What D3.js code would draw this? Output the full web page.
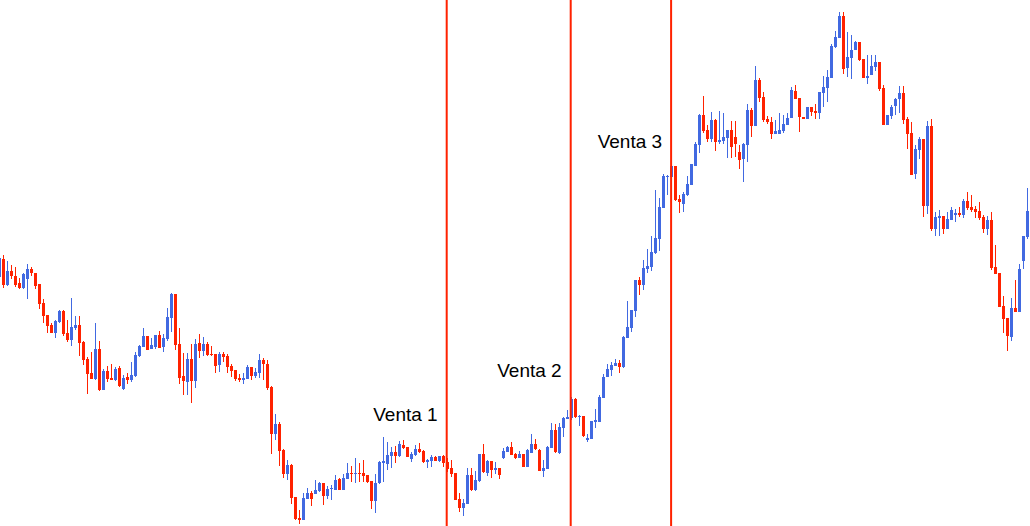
<!DOCTYPE html>
<html>
<head>
<meta charset="utf-8">
<script src="https://cdn.jsdelivr.net/npm/d3@7"></script>
<style>
  html, body { margin: 0; padding: 0; background: #fff; }
  svg { display: block; }
</style>
</head>
<body>
<div id="chart"></div>
<script>
"use strict";

// candle data, one entry per bar (price points)
var opens = [723,741,715,729,724,717,712,721,731,727,716,697,685,675,667,678,689,667,660,672,675,658,641,627,621,651,610,629,622,620,632,611,623,620,624,644,653,664,651,653,665,653,661,682,706,656,624,618,641,619,657,649,656,646,646,635,646,644,634,630,622,620,621,633,624,627,640,636,613,566,576,550,526,535,503,482,480,501,507,506,509,517,504,511,510,521,510,521,527,526,527,527,525,519,499,517,537,536,544,548,544,555,553,541,545,551,549,538,539,543,539,544,538,532,527,501,492,496,525,510,519,546,527,539,530,532,542,548,553,546,542,546,533,547,556,550,529,531,552,570,547,572,581,582,601,583,584,560,561,578,578,602,623,630,634,637,633,662,672,689,720,715,731,733,747,761,792,823,823,834,801,796,805,815,834,855,885,870,861,880,858,859,862,870,863,848,841,855,890,874,920,903,881,878,866,866,869,875,882,909,902,883,881,893,889,887,907,912,922,953,962,984,932,942,950,958,941,922,925,933,938,912,875,884,894,901,907,881,867,826,850,861,794,874,771,782,784,771,780,785,787,785,799,793,791,789,783,771,780,733,727,694,682,663,692,688,739,763];
var highs = [744,745,739,735,733,722,727,736,733,727,716,701,685,677,680,690,690,680,702,684,684,659,643,648,677,659,631,634,636,633,634,625,627,638,648,655,672,664,662,665,669,666,692,707,706,672,647,647,656,661,666,663,658,654,646,648,648,646,636,630,626,627,635,633,632,646,642,640,614,586,578,551,540,536,503,490,507,512,509,520,518,517,514,515,525,522,526,537,534,542,537,540,525,519,526,539,563,558,553,554,559,560,553,548,555,557,550,541,545,544,544,545,542,540,527,507,501,532,532,529,546,556,540,539,538,532,552,554,558,547,549,546,551,566,561,551,540,554,577,576,577,583,590,603,602,585,584,566,579,591,605,626,636,638,641,640,664,699,690,720,723,740,751,764,810,802,826,825,837,834,805,808,824,836,858,886,904,875,888,881,889,887,870,879,879,855,857,896,892,934,922,908,884,883,880,887,885,887,913,915,902,883,893,893,896,908,924,930,956,969,988,988,968,965,959,958,941,945,945,945,938,915,885,895,902,914,914,883,878,855,863,861,879,881,788,790,784,788,793,791,793,801,808,805,794,798,785,784,788,755,727,704,682,702,720,736,764,812];
var lows = [720,712,714,721,713,711,711,701,724,711,691,677,667,667,662,677,664,658,654,670,644,635,606,621,620,609,610,618,620,619,613,610,616,618,623,643,653,650,651,651,652,648,659,668,650,616,605,605,597,612,642,644,644,644,627,628,638,627,623,619,618,616,621,620,622,622,620,610,546,560,534,522,520,496,480,476,480,501,494,506,508,495,501,500,510,510,510,521,518,517,518,518,517,491,487,516,518,530,532,537,543,551,543,538,544,547,537,532,533,539,538,533,528,523,500,488,484,496,509,509,518,527,524,522,526,521,541,548,545,541,542,533,533,547,550,529,523,531,552,547,546,563,581,580,582,574,563,558,561,572,578,602,623,624,634,627,632,662,668,683,705,710,727,729,746,749,792,805,817,799,787,788,804,815,834,847,867,858,858,849,856,856,842,842,843,831,818,838,863,874,898,878,876,861,866,866,867,875,882,901,868,881,881,884,881,881,893,898,922,952,962,926,923,921,950,939,922,916,925,929,909,875,875,881,885,887,876,851,825,821,841,783,786,769,764,764,766,771,780,778,783,782,790,788,782,780,767,765,730,726,693,667,649,659,688,688,731,761];
var closes = [742,715,729,724,715,712,726,731,727,714,696,684,674,667,679,689,666,660,673,675,657,640,626,621,651,610,629,621,620,631,614,622,620,625,645,654,664,650,655,665,652,662,683,706,655,622,619,641,619,656,649,656,645,645,634,646,643,633,629,621,620,622,633,624,628,640,636,612,566,576,549,526,535,502,481,480,502,507,501,510,517,504,511,512,520,510,522,527,526,527,526,524,518,499,517,538,539,545,548,544,556,552,543,546,551,548,538,540,543,539,544,537,531,526,500,492,497,525,510,520,546,528,539,530,532,525,549,553,545,542,546,533,550,556,551,529,532,553,570,548,573,582,583,601,583,584,564,562,579,580,603,623,631,635,637,633,663,673,690,720,715,732,734,748,762,793,824,824,834,800,798,806,816,836,856,885,869,861,880,858,860,863,870,853,856,840,856,890,874,920,902,880,878,866,869,870,876,882,910,901,883,881,893,888,887,908,913,923,954,963,984,931,943,950,958,940,922,924,934,938,911,875,885,893,901,907,880,866,825,851,861,794,874,771,783,784,771,781,790,787,785,799,792,790,788,782,771,780,732,726,693,681,664,692,688,731,764,789];

// sell markers: bar position of each vertical line, label and label price level
var markerPos = [111.8, 142.8, 167.9];
var markerText = ["Venta 1", "Venta 2", "Venta 3"];
var markerLevel = [579, 623, 852];

var width = 1030;
var height = 526;
var upColor = "#4169e1";
var downColor = "#ff2200";

var candles = opens.map(function(o, i) {
  return { i: i, o: o, h: highs[i], l: lows[i], c: closes[i] };
});

var x = d3.scaleLinear()
  .domain([0, candles.length - 1])
  .range([-0.5, 4 * (candles.length - 1) - 0.5]);

var y = d3.scaleLinear()
  .domain([1000, 474])
  .range([0, height]);

var svg = d3.select("#chart")
  .append("svg")
  .attr("width", width)
  .attr("height", height);

svg.append("rect")
  .attr("width", width)
  .attr("height", height)
  .attr("fill", "#fff");

var bars = svg.append("g")
  .attr("class", "candles")
  .selectAll("g")
  .data(candles)
  .enter()
  .append("g")
  .attr("fill", function(d) {
    return d.c >= d.o ? upColor : downColor;
  });

// wicks
bars.append("rect")
  .attr("x", function(d) { return x(d.i) - 0.5; })
  .attr("width", 1)
  .attr("y", function(d) { return y(d.h); })
  .attr("height", function(d) { return Math.max(1, y(d.l) - y(d.h)); });

// bodies
bars.append("rect")
  .attr("x", function(d) { return x(d.i) - 1.5; })
  .attr("width", 3)
  .attr("y", function(d) { return y(Math.max(d.o, d.c)); })
  .attr("height", function(d) {
    return Math.max(1, Math.abs(y(d.o) - y(d.c)));
  });

// sell lines and labels
var markers = svg.append("g")
  .attr("class", "markers")
  .selectAll("g")
  .data(markerPos)
  .enter()
  .append("g");

markers.append("rect")
  .attr("x", function(d) { return x(d) - 1; })
  .attr("width", 2)
  .attr("y", 0)
  .attr("height", height)
  .attr("fill", downColor);

markers.append("text")
  .attr("x", function(d) { return x(d) - 9; })
  .attr("y", function(d, i) { return y(markerLevel[i]); })
  .attr("text-anchor", "end")
  .attr("font-family", "'Liberation Sans', Arial, sans-serif")
  .attr("font-size", 19)
  .attr("fill", "#000")
  .text(function(d, i) { return markerText[i]; });
</script>
</body>
</html>
